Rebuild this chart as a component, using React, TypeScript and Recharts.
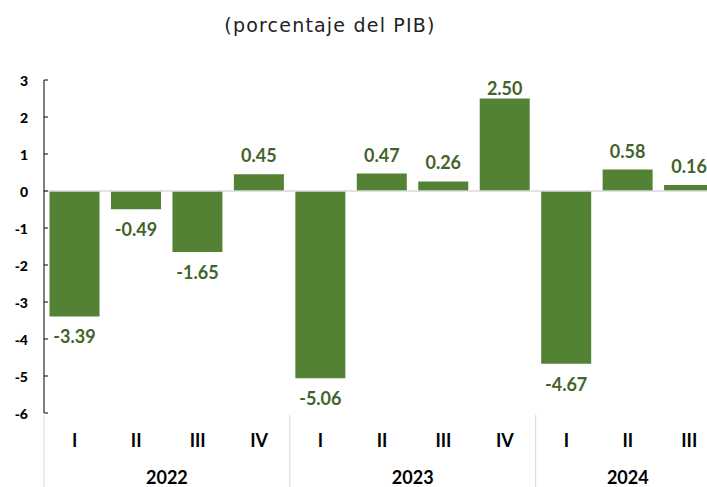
import React from 'react';
import { BarChart, Bar, XAxis, YAxis, ReferenceLine, LabelList } from 'recharts';

const quarters = ['I', 'II', 'III', 'IV', 'I', 'II', 'III', 'IV', 'I', 'II', 'III'];
const years = ['2022', '2022', '2022', '2022', '2023', '2023', '2023', '2023', '2024', '2024', '2024'];
const values = [-3.39, -0.49, -1.65, 0.45, -5.06, 0.47, 0.26, 2.5, -4.67, 0.58, 0.16];
const yTicks = [-6, -5, -4, -3, -2, -1, 0, 1, 2, 3];
const subtitle = '(porcentaje del PIB)';

const data = quarters.map((q, i) => ({ id: i, q, year: years[i], v: values[i] }));

const FONT = 'Lato, "Open Sans", sans-serif';
const BAR = '#548235';
const LABEL = '#44632b';
const SEP = '#d9d9d9';
const PLOT_TOP = 80;

const YTick = (props: any) => {
  const { x, y, payload } = props;
  return (
    <g>
      <text x={x} y={y} textAnchor="end" dominantBaseline="central" fontFamily={FONT} fontWeight={900} fontSize={14} fill="#000">
        {payload.value}
      </text>
      <line x1={x + 16} x2={x + 20} y1={y} y2={y} stroke="#000" strokeWidth={1} />
    </g>
  );
};

const QuarterTick = (props: any) => {
  const { x, y, payload, index } = props;
  const half = payload.offset || 0;
  const isFirst = index === 0 || years[index] !== years[index - 1];
  return (
    <g>
      {isFirst && (
        <line x1={x - half} x2={x - half} y1={y + 2} y2={y + 80} stroke={SEP} strokeWidth={1} />
      )}
      <text x={x} y={y + 27} textAnchor="middle" dominantBaseline="central" fontFamily={FONT} fontWeight={700} fontSize={18} fill="#000">
        {quarters[index]}
      </text>
    </g>
  );
};

const YearTick = (props: any) => {
  const { x, y, payload, index } = props;
  const half = payload.offset || 0;
  const isFirst = index === 0 || years[index] !== years[index - 1];
  if (!isFirst) return <g />;
  const count = years.filter((yy) => yy === years[index]).length;
  const cx = x + (count - 1) * half;
  return (
    <text x={cx} y={y + 22} textAnchor="middle" dominantBaseline="central" fontFamily={FONT} fontWeight={700} fontSize={18} fill="#000">
      {years[index]}
    </text>
  );
};

const ValueLabel = (props: any) => {
  const { x, y, width, height, value } = props;
  const top = Math.min(y, y + height);
  const bottom = Math.max(y, y + height);
  const cx = x + width / 2;
  const cy = value >= 0 ? Math.max(top - 19, PLOT_TOP + 8) : bottom + 20;
  return (
    <text x={cx} y={cy} textAnchor="middle" dominantBaseline="central" fontFamily={FONT} fontWeight={700} fontSize={18} fill={LABEL}>
      {Number(value).toFixed(2)}
    </text>
  );
};

export default function App() {
  return (
    <div style={{ position: 'absolute', left: 0, top: 0, width: 707, height: 487, overflow: 'hidden', background: '#fff' }}>
      <div
        style={{
          position: 'absolute',
          left: 0,
          top: 14,
          width: 660,
          textAlign: 'center',
          fontFamily: '"DejaVu Sans", sans-serif',
          fontSize: 19,
          lineHeight: '22px',
          letterSpacing: 1.2,
          color: '#222',
        }}
      >
        {subtitle}
      </div>
      <BarChart
        width={720}
        height={487}
        data={data}
        margin={{ top: PLOT_TOP, right: 0, bottom: 0, left: 0 }}
        barCategoryGap="9%"
      >
        <YAxis
          domain={[-6, 3]}
          ticks={yTicks}
          interval={0}
          width={44}
          axisLine={{ stroke: '#000', strokeWidth: 1 }}
          tickLine={false}
          tickSize={0}
          tickMargin={16}
          tick={<YTick />}
        />
        <XAxis
          dataKey="id"
          xAxisId={0}
          height={42}
          interval={0}
          axisLine={false}
          tickLine={false}
          tickSize={0}
          tickMargin={0}
          tick={<QuarterTick />}
        />
        <XAxis
          dataKey="id"
          xAxisId={1}
          height={32}
          interval={0}
          axisLine={false}
          tickLine={false}
          tickSize={0}
          tickMargin={0}
          tick={<YearTick />}
        />
        <ReferenceLine y={0} xAxisId={0} stroke={SEP} strokeWidth={1.5} />
        <Bar dataKey="v" xAxisId={0} fill={BAR} isAnimationActive={false}>
          <LabelList dataKey="v" content={<ValueLabel />} />
        </Bar>
      </BarChart>
    </div>
  );
}
